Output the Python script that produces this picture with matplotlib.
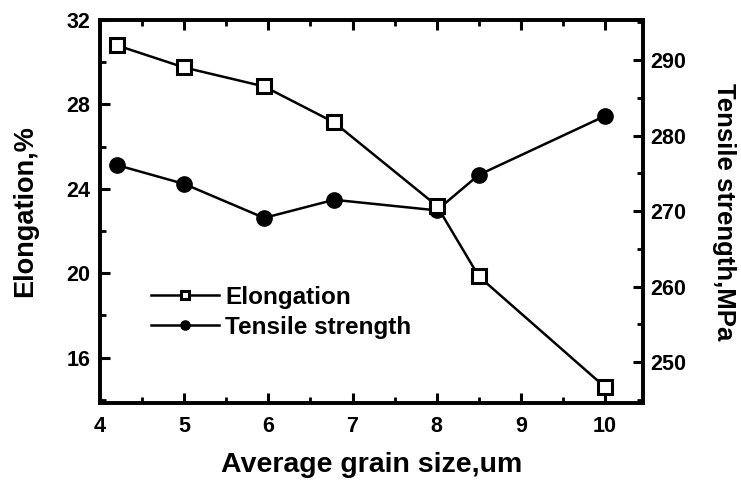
import matplotlib.pyplot as plt
from matplotlib.ticker import MultipleLocator

# data
grain_size = [4.2, 5.0, 5.95, 6.78, 8.0, 8.5, 10.0]
elongation = [30.8, 29.75, 28.85, 27.15, 23.2, 19.85, 14.6]
tensile = [276.1, 273.6, 269.1, 271.5, 270.1, 274.8, 282.6]

plt.rcParams['font.family'] = ['Liberation Sans', 'DejaVu Sans']
plt.rcParams['font.weight'] = 'bold'

fig = plt.figure(figsize=(7.41, 4.84), dpi=100)
ax = fig.add_axes([100 / 741, 1 - 403 / 484, 543 / 741, 383 / 484])
ax2 = ax.twinx()
ax.set_zorder(ax2.get_zorder() + 1)
ax.patch.set_visible(False)

l1, = ax.plot(grain_size, elongation, color='black', lw=1.8, marker='s',
              ms=10, mfc='white', mec='black', mew=2.2, zorder=3)
l2, = ax2.plot(grain_size, tensile, color='black', lw=1.8, marker='o',
               ms=11, mfc='black', mec='black')

ax.set_xlim(4, 10.45)
ax.set_ylim(13.85, 32)
ax2.set_ylim(244.6, 295.3)

ax.xaxis.set_major_locator(MultipleLocator(1))
ax.xaxis.set_minor_locator(MultipleLocator(0.5))
ax.yaxis.set_major_locator(MultipleLocator(4))
ax.yaxis.set_minor_locator(MultipleLocator(2))
ax2.yaxis.set_major_locator(MultipleLocator(10))
ax2.yaxis.set_minor_locator(MultipleLocator(5))

for a in (ax, ax2):
    for s in a.spines.values():
        s.set_linewidth(2.6)
    a.tick_params(which='major', direction='in', length=7, width=2.2,
                  labelsize=15.5)
    a.tick_params(which='minor', direction='in', length=4, width=2.0)
ax.tick_params(which='both', top=True)
ax.tick_params(axis='x', pad=9)
ax.tick_params(axis='y', pad=7)
ax2.tick_params(axis='y', pad=5)

ax.set_xlabel('Average grain size,um', fontsize=20.5, fontweight='bold', labelpad=11)
ax.set_ylabel('Elongation,%', fontsize=19.5, fontweight='bold', labelpad=20)
ax2.set_ylabel('Tensile strength,MPa', fontsize=18.5, fontweight='bold',
               rotation=270, labelpad=36)

ax.legend([l1, l2], ['Elongation', 'Tensile strength'], loc='lower left',
          bbox_to_anchor=(0.054, 0.11), frameon=False, fontsize=17.5,
          handlelength=2.8, handletextpad=0.25, labelspacing=0.3,
          markerscale=0.6)

fig.savefig('out.png', dpi=100)
